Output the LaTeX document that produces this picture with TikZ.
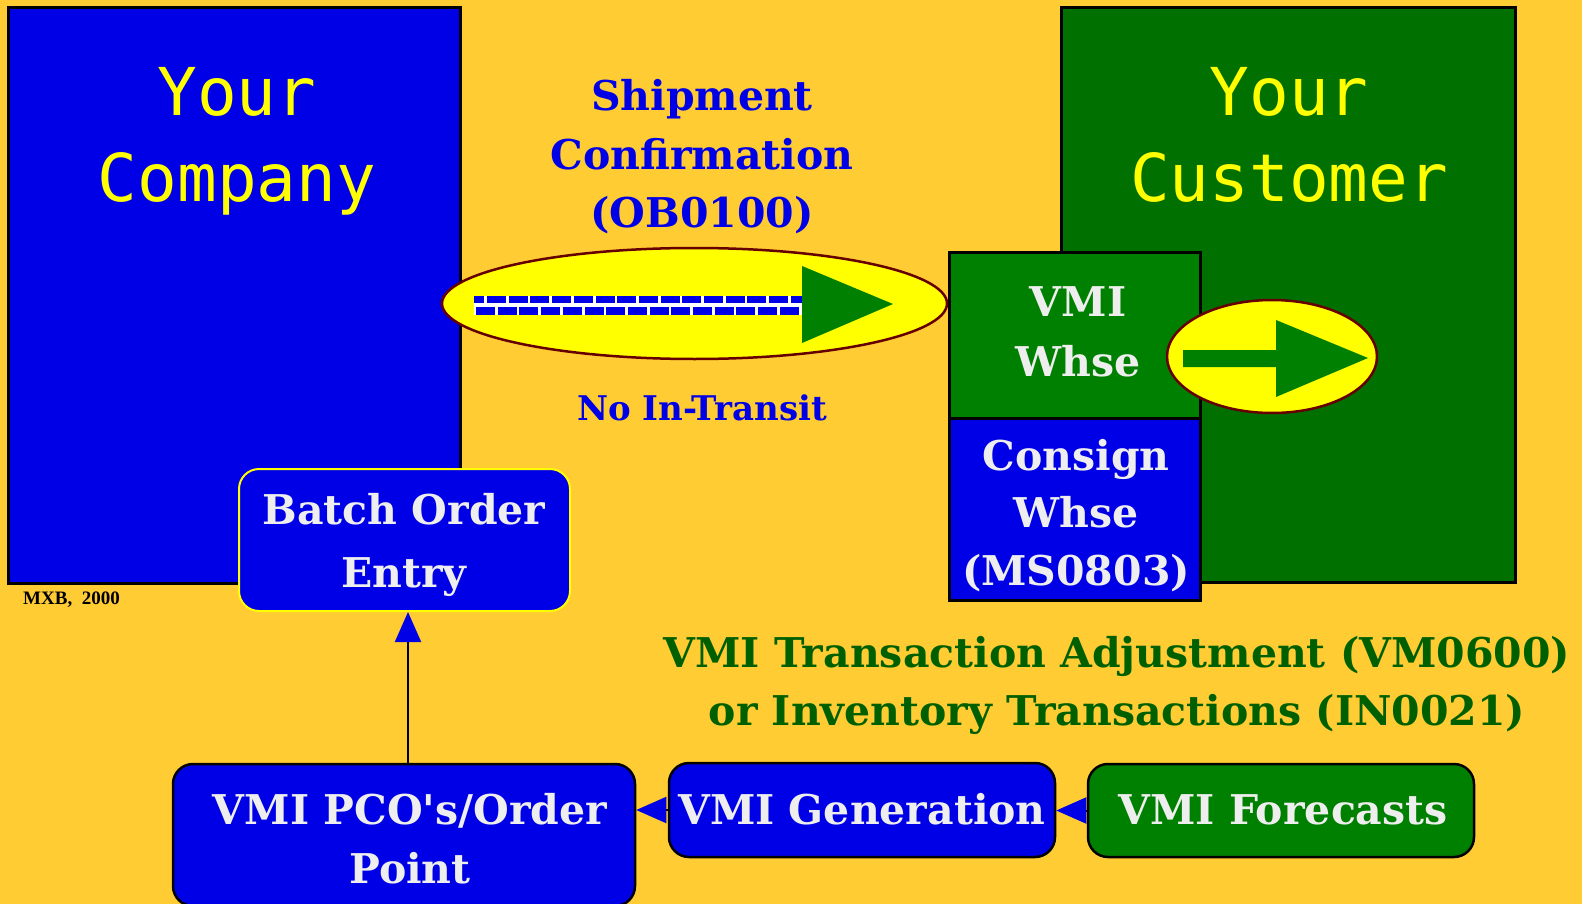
\documentclass[tikz,border=0pt]{standalone}
\usepackage{fontspec}
\setmainfont{DejaVu Serif}
\newfontfamily\rawserif[Ligatures=TeXOff]{DejaVu Serif}
\newfontfamily\gothic{DejaVu Sans Mono}
\newfontfamily\timesb{Liberation Serif}
\usetikzlibrary{arrows.meta,shapes.geometric}

\definecolor{gold}{RGB}{255,204,51}
\definecolor{royal}{RGB}{0,0,230}
\definecolor{leaf}{RGB}{0,128,0}
\definecolor{forest}{RGB}{0,112,0}
\definecolor{ink}{RGB}{0,96,0}
\definecolor{chalk}{RGB}{238,238,238}
\definecolor{maroon}{RGB}{102,0,0}
\definecolor{lemon}{RGB}{255,255,0}

\tikzset{
  panel/.style={draw=black, line width=3pt, inner sep=0pt},
  flowbox/.style={draw=black, line width=2.5pt, rounded corners=20pt, fill=royal, inner sep=0pt},
  oval/.style={ellipse, draw=maroon, line width=2.5pt, fill=lemon, inner sep=0pt},
  bigword/.style={text=lemon, font=\gothic\fontsize{66}{86}\selectfont, align=center, inner sep=0pt, anchor=base},
  boldword/.style={font=\bfseries\fontsize{41}{58}\selectfont, align=center, inner sep=0pt, anchor=base},
  feed/.style={draw=black, line width=2pt, -{Triangle[length=30pt,width=26pt,color=royal]}}
}

\begin{document}
\begin{tikzpicture}[x=1pt,y=-1pt]

    \useasboundingbox (0,0) rectangle (1582,904);
    \fill[gold] (0,0) rectangle (1582,904);
    \clip (0,0) rectangle (1582,904);

     \coordinate (riser) at (408,764);

    % the two sides
    \node[panel, fill=royal, minimum width=452pt, minimum height=575pt] (company) at (234,295.5) {};
    \node[panel, fill=forest, minimum width=454pt, minimum height=574pt] (customer) at (1288,295) {};
    \node[panel, fill=leaf, minimum width=251pt, minimum height=166pt] (vmiwhse) at (1074.5,335) {};
    \node[panel, fill=royal, minimum width=251pt, minimum height=182pt] (consign) at (1074.5,509) {};

    % shipment oval
    \node[oval, minimum width=505pt, minimum height=111pt] (ship) at (694.5,303.5) {};
    \begin{scope}
      \clip (474,296) rectangle (802,315);
      \fill[white] (474,296) rectangle (802,315);
      \foreach \k in {-1,...,14} \fill[royal] (487+21.7*\k,296) rectangle +(19,7);
      \foreach \k in {0,...,14} \fill[royal] (476+21.7*\k,307) rectangle +(19,8);
    \end{scope}
    \fill[leaf] (802,266) -- (893,304) -- (802,343) -- cycle;

    \node[oval, minimum width=210pt, minimum height=113pt] (turn) at (1272,356.5) {};
    \fill[leaf] (1183,350) -- (1276,350) -- (1276,320) -- (1368,358) -- (1276,397) -- (1276,367) -- (1183,367) -- cycle;

    % texts (anchored on the last line)
    \node[bigword] (companytxt) at (237,202) {Your\\Company};
    \node[bigword] (customertxt) at (1289,202) {Your\\Customer};
    \node[boldword, text=royal] (shiptxt) at (702,227) {Shipment\\Confirmation\\(OB0100)};
    \node[boldword, text=royal, font=\bfseries\fontsize{34}{40}\selectfont] (transit) at (702,420) {No In-Transit};
    \node[boldword, text=chalk, font=\bfseries\fontsize{41}{60}\selectfont] (vmitxt) at (1078,376) {VMI\\Whse};
    \node[boldword, text=chalk, font=\bfseries\fontsize{41}{57.5}\selectfont] (consigntxt) at (1076,585) {Consign\\Whse\\(MS0803)};
    \node[boldword, text=ink] (adjust) at (1117,725) {VMI Transaction Adjustment (VM0600)\\or Inventory Transactions (IN0021)};
    \node[font=\timesb\bfseries\fontsize{19}{22}\selectfont, anchor=base west, inner sep=0pt] (stamp) at (23,604) {MXB,\ \ 2000};

    % order flow
    \node[flowbox, draw=lemon, line width=2pt, minimum width=331pt, minimum height=142pt] (batch) at (404.5,540) {};
    \node[flowbox, minimum width=462pt, minimum height=142pt] (pco) at (404,835) {};
    \node[flowbox, minimum width=386pt, minimum height=94pt] (gen) at (862,810) {};
    \node[flowbox, fill=leaf, minimum width=386pt, minimum height=93pt] (cast) at (1281,810.5) {};

    \node[boldword, text=chalk, font=\bfseries\fontsize{41}{63}\selectfont] (batchtxt) at (404,587) {Batch Order\\Entry};
    \node[boldword, text=chalk, font=\bfseries\fontsize{41}{59}\selectfont] (pcotxt) at (410,883) {VMI PCO{\rawserif\bfseries '}s/Order\\Point};
    \node[boldword, text=chalk] (gentxt) at (862,824) {VMI Generation};
    \node[boldword, text=chalk] (casttxt) at (1283,824) {VMI Forecasts};

    \draw[feed] (riser) -- (riser |- batch.south);
    \draw[feed] (gen.west) -- (gen.west -| pco.east);
    \draw[feed] (cast.west) -- (cast.west -| gen.east);

\end{tikzpicture}
\end{document}
